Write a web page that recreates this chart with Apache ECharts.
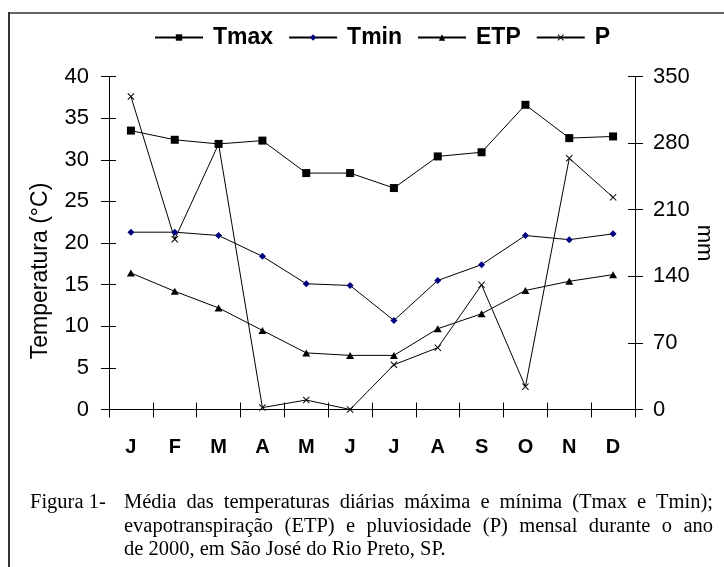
<!DOCTYPE html>
<html><head><meta charset="utf-8">
<script src="https://cdn.jsdelivr.net/npm/echarts@6/dist/echarts.min.js"></script>
<style>html,body{margin:0;padding:0;background:#fff}#c{width:724px;height:567px}</style>
</head><body><div id="c"></div>
<script>
const months = ['J','F','M','A','M','J','J','A','S','O','N','D'];
const tmax = [33.5, 32.4, 31.9, 32.3, 28.4, 28.4, 26.6, 30.4, 30.9, 36.6, 32.6, 32.8];
const tmin = [21.3, 21.3, 20.9, 18.4, 15.1, 14.9, 10.7, 15.5, 17.4, 20.9, 20.4, 21.1];
const etp = [16.4, 14.2, 12.2, 9.5, 6.8, 6.5, 6.5, 9.7, 11.5, 14.3, 15.4, 16.2];
const precip = [329, 179, 279, 2, 10, 0, 47, 65, 131, 24, 264, 223];
const seriesNames = ['Tmax', 'Tmin', 'ETP', 'P'];
const tempAxis = {min: 0, max: 40, interval: 5, title: 'Temperatura (°C)'};
const mmAxis = {min: 0, max: 350, interval: 70, title: 'mm'};
const captionLabel = 'Figura 1-';
const captionBody = [
  'Média das temperaturas diárias máxima e mínima (Tmax e Tmin);',
  'evapotranspiração (ETP) e pluviosidade (P) mensal durante o ano',
  'de 2000, em São José do Rio Preto, SP.'
];

const SANS = '"Liberation Sans", Arial, sans-serif';
const CAP_FONT = '20.5px "Liberation Serif", "Times New Roman", serif';
const crossPath = 'path://M0,1L1,0L5,4L9,0L10,1L6,5L10,9L9,10L5,6L1,10L0,9L4,5Z';

const ctx = document.createElement('canvas').getContext('2d');
ctx.font = CAP_FONT;
function captionLine(text, x0, x1, y, justify) {
  const words = text.split(' ');
  const widths = words.map(w => ctx.measureText(w).width);
  const total = widths.reduce((a, b) => a + b, 0);
  const gap = justify ? (x1 - x0 - total) / (words.length - 1) : ctx.measureText(' ').width;
  let x = x0;
  return words.map((w, i) => {
    const el = {type: 'text', x: x, y: y, silent: true,
      style: {text: w, font: CAP_FONT, fill: '#000', align: 'left', verticalAlign: 'middle'}};
    x += widths[i] + gap;
    return el;
  });
}

const graphics = [
  {type: 'line', silent: true, shape: {x1: 8, y1: 13, x2: 724, y2: 13}, style: {stroke: '#666', lineWidth: 2}},
  {type: 'line', silent: true, shape: {x1: 9, y1: 12, x2: 9, y2: 567}, style: {stroke: '#333', lineWidth: 2}},
  {type: 'text', x: 41, y: 271, rotation: Math.PI / 2, silent: true,
    style: {text: tempAxis.title, font: '23px ' + SANS, fill: '#000', align: 'center', verticalAlign: 'middle'}},
  {type: 'text', x: 704, y: 243, rotation: -Math.PI / 2, silent: true,
    style: {text: mmAxis.title, font: '22px ' + SANS, fill: '#000', align: 'center', verticalAlign: 'middle'}},
  {type: 'text', x: 30, y: 503, silent: true,
    style: {text: captionLabel, font: CAP_FONT, fill: '#000', align: 'left', verticalAlign: 'middle'}}
].concat(
  captionLine(captionBody[0], 124, 713, 503, true),
  captionLine(captionBody[1], 124, 713, 526.5, true),
  captionLine(captionBody[2], 124, 713, 550, false)
);

const black = '#000';
function valueAxis(cfg, pos, main, margin) {
  return {
    type: 'value', position: pos, min: cfg.min, max: cfg.max, interval: cfg.interval,
    axisLine: {show: main, lineStyle: {color: black, width: 1}},
    axisTick: {show: true, inside: !main, length: main ? 8 : 7, lineStyle: {color: black, width: 1}},
    axisLabel: {show: main, fontSize: 22, color: black, fontFamily: SANS, margin: margin},
    splitLine: {show: false}
  };
}

const chart = echarts.init(document.getElementById('c'));
chart.setOption({
  animation: false,
  backgroundColor: '#fff',
  textStyle: {fontFamily: SANS},
  legend: {
    data: seriesNames, left: 149, top: 21, itemWidth: 48, itemHeight: 8, itemGap: 15,
    textStyle: {fontSize: 23, fontWeight: 'bold', color: black, padding: [0, 0, 0, 5]}
  },
  grid: {left: 109, right: 89, top: 76.5, bottom: 157.5, containLabel: false, outerBoundsMode: 'none'},
  xAxis: [
    {type: 'category', data: months, position: 'bottom', boundaryGap: true,
      axisLine: {lineStyle: {color: black, width: 1}},
      axisTick: {show: true, length: 8, lineStyle: {color: black, width: 1}},
      axisLabel: {interval: 0, fontSize: 20, fontWeight: 'bold', color: black, margin: 28},
      splitLine: {show: false}},
    {type: 'category', data: months, position: 'bottom', boundaryGap: true,
      axisLine: {show: false},
      axisTick: {show: true, inside: true, length: 7, lineStyle: {color: black, width: 1}},
      axisLabel: {show: false}, splitLine: {show: false}}
  ],
  yAxis: [
    valueAxis(tempAxis, 'left', true, 20),
    valueAxis(mmAxis, 'right', true, 18),
    valueAxis(tempAxis, 'left', false, 0),
    valueAxis(mmAxis, 'right', false, 0)
  ],
  series: [
    {name: seriesNames[0], type: 'line', data: tmax, yAxisIndex: 0, symbol: 'rect', symbolSize: 8, showAllSymbol: true,
      itemStyle: {color: black}, lineStyle: {color: black, width: 1}},
    {name: seriesNames[1], type: 'line', data: tmin, yAxisIndex: 0, symbol: 'diamond', symbolSize: 7, showAllSymbol: true,
      itemStyle: {color: '#000080'}, lineStyle: {color: black, width: 1}},
    {name: seriesNames[2], type: 'line', data: etp, yAxisIndex: 0, symbol: 'triangle', symbolSize: [8, 7], showAllSymbol: true,
      itemStyle: {color: black}, lineStyle: {color: black, width: 1}},
    {name: seriesNames[3], type: 'line', data: precip, yAxisIndex: 1, symbol: crossPath, symbolSize: 7, showAllSymbol: true,
      itemStyle: {color: black}, lineStyle: {color: black, width: 1}}
  ],
  graphic: graphics
});
</script>
</body></html>
